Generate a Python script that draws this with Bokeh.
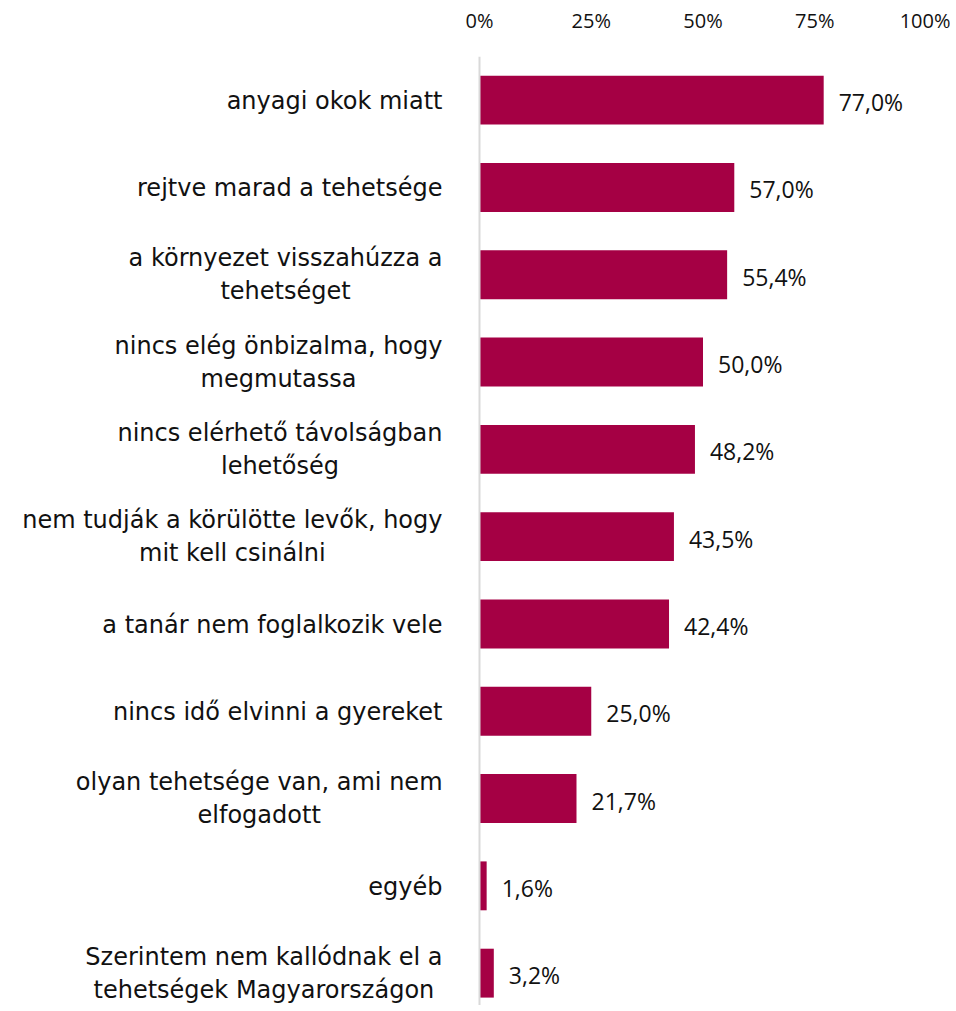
from bokeh.plotting import figure
from bokeh.models import ColumnDataSource, Range1d, FixedTicker, LinearAxis, Span
from bokeh.core.properties import value
from bokeh.embed import file_html
from bokeh.resources import INLINE

# ---------------- data ----------------
categories = [
    "anyagi okok miatt",
    "rejtve marad a tehetsége",
    "a környezet visszahúzza a\ntehetséget",
    "nincs elég önbizalma, hogy\nmegmutassa",
    "nincs elérhető távolságban\nlehetőség",
    "nem tudják a körülötte levők, hogy\nmit kell csinálni",
    "a tanár nem foglalkozik vele",
    "nincs idő elvinni a gyereket",
    "olyan tehetsége van, ami nem\nelfogadott",
    "egyéb",
    "Szerintem nem kallódnak el a\ntehetségek Magyarországon",
]
values = [77.0, 57.0, 55.4, 50.0, 48.2, 43.5, 42.4, 25.0, 21.7, 1.6, 3.2]
ticks = [0, 25, 50, 75, 100]
tick_labels = ["0%", "25%", "50%", "75%", "100%"]

# ---------------- style ----------------
CAT_FONT = "DejaVu Sans"
FONT = "Open Sans"
CAT_SIZE = 24
VAL_SIZE = 23
TICK_SIZE = 20
BAR_COLOR = "#A50044"
TEXT_COLOR = "#111111"
LABEL_RIGHT = -37      # px offset of category label block's right edge from x=0
LINE_STEP = 33         # px between wrapped lines


def _measure():
    try:
        import subprocess
        from PIL import ImageFont
        path = subprocess.run(["fc-match", "-f", "%{file}", CAT_FONT],
                              capture_output=True, text=True).stdout.strip()
        f = ImageFont.truetype(path, CAT_SIZE)
        return lambda s: f.getlength(s)
    except Exception:
        return lambda s: len(s) * CAT_SIZE * 0.55


width_of = _measure()

rows = list(range(len(categories)))

# category label lines
single = dict(x=[], y=[], text=[], yo=[])
multi = dict(x=[], y=[], text=[], xo=[], yo=[])
for i, cat in enumerate(categories):
    lines = cat.split("\n")
    if len(lines) == 1:
        single["x"].append(0)
        single["y"].append(i)
        single["text"].append(cat)
        single["yo"].append(1)
    else:
        w = max(width_of(s) for s in lines)
        cx = LABEL_RIGHT - w / 2
        n = len(lines)
        for k, s in enumerate(lines):
            multi["x"].append(0)
            multi["y"].append(i)
            multi["text"].append(s)
            multi["xo"].append(cx)
            multi["yo"].append((k - (n - 1) / 2) * LINE_STEP)

bars = ColumnDataSource(dict(
    y=rows, v=values,
    lab=[f"{v:.1f}".replace(".", ",") + "%" for v in values],
))

# ---------------- figure ----------------
PX_PER_UNIT = 4.47
W, H = 950, 1005
left_px = 479
x_start = -left_px / PX_PER_UNIT
x_end = x_start + W / PX_PER_UNIT

TOP = 56
frame_h = H - TOP
row_px = 87.3
y_top = -0.5
y_bottom = y_top + frame_h / row_px

p = figure(width=W, height=H, output_backend="svg", toolbar_location=None,
           x_range=Range1d(x_start, x_end), y_range=Range1d(y_bottom, y_top),
           x_axis_location=None, y_axis_location=None,
           min_border_left=0, min_border_right=0, min_border_bottom=0,
           min_border_top=TOP)
p.outline_line_color = None
p.grid.visible = False
p.background_fill_color = "white"
p.border_fill_color = "white"

ax = LinearAxis(ticker=FixedTicker(ticks=ticks),
                major_label_overrides={t: l for t, l in zip(ticks, tick_labels)})
ax.axis_line_color = None
ax.major_tick_line_color = None
ax.minor_tick_line_color = None
ax.major_label_text_font = FONT
ax.major_label_text_font_size = f"{TICK_SIZE}px"
ax.major_label_text_color = TEXT_COLOR
ax.major_label_standoff = 17
p.add_layout(ax, "above")

p.add_layout(Span(location=0, dimension="height", line_color="#D9D9D9", line_width=2))

p.hbar(y="y", right="v", left=0, height=0.56, source=bars,
       fill_color=BAR_COLOR, line_color=None)

p.text(x="v", y="y", text="lab", source=bars, x_offset=15, y_offset=2,
       text_font=value(FONT), text_font_size=f"{VAL_SIZE}px",
       text_color=TEXT_COLOR, text_align="left", text_baseline="middle")

p.text(x="x", y="y", text="text", source=ColumnDataSource(single),
       x_offset=LABEL_RIGHT, y_offset="yo",
       text_font=value(CAT_FONT), text_font_size=f"{CAT_SIZE}px",
       text_color=TEXT_COLOR, text_align="right", text_baseline="middle")

p.text(x="x", y="y", text="text", source=ColumnDataSource(multi),
       x_offset="xo", y_offset="yo",
       text_font=value(CAT_FONT), text_font_size=f"{CAT_SIZE}px",
       text_color=TEXT_COLOR, text_align="center", text_baseline="middle")

open("out.html", "w").write(file_html(p, INLINE))
